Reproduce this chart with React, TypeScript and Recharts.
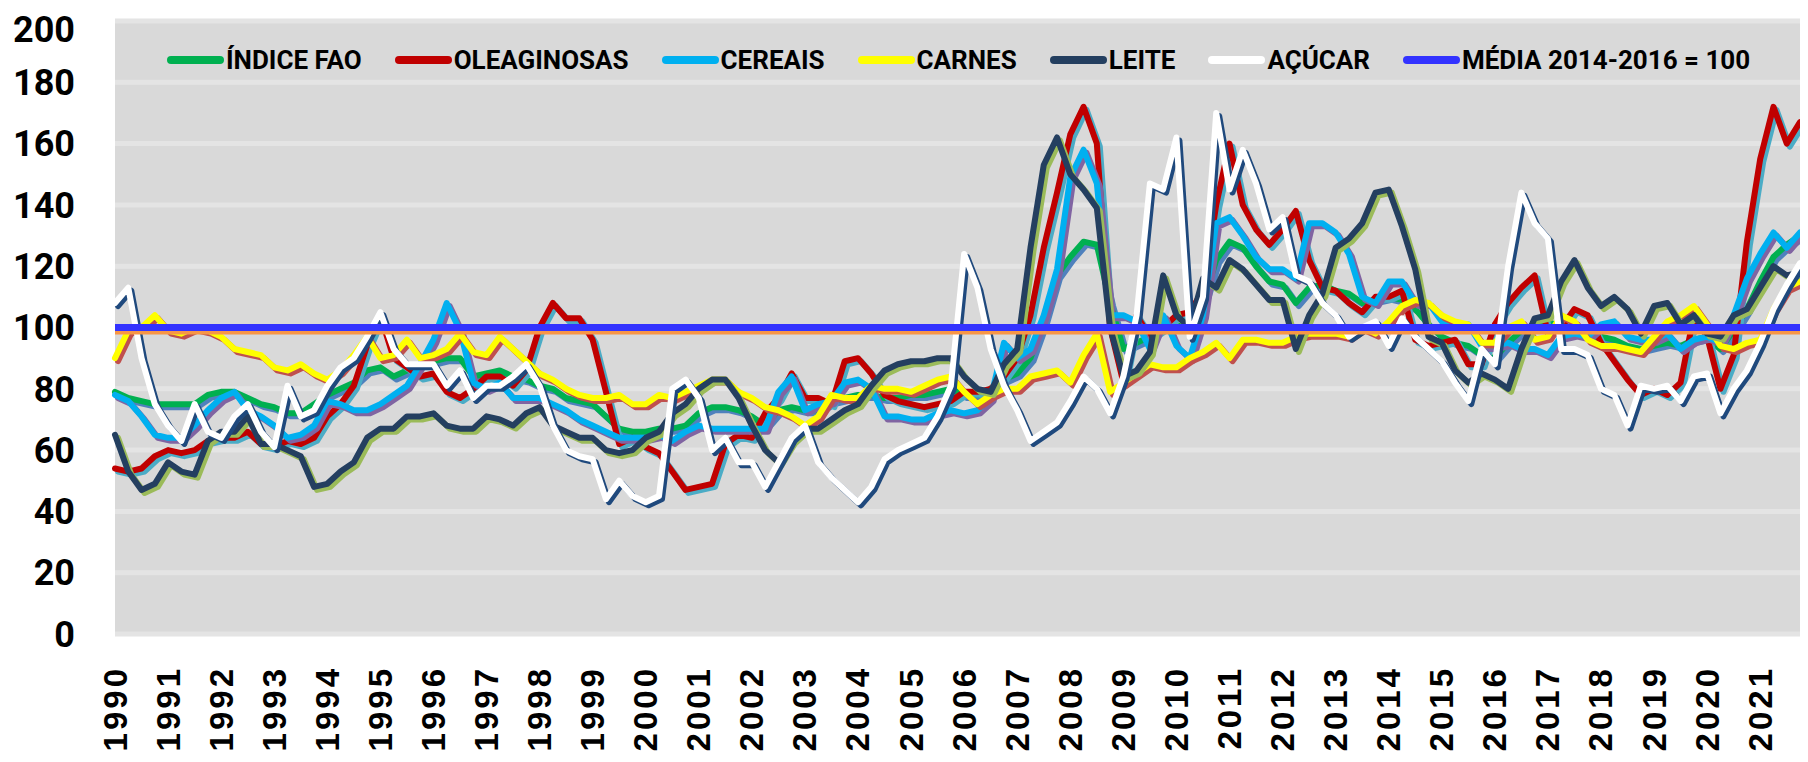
import { LineChart, Line, XAxis, YAxis, CartesianGrid, ReferenceLine } from "recharts";

const YEARS = [
  1990, 1991, 1992, 1993, 1994, 1995, 1996, 1997, 1998, 1999, 2000, 2001, 2002, 2003, 2004, 2005,
  2006, 2007, 2008, 2009, 2010, 2011, 2012, 2013, 2014, 2015, 2016, 2017, 2018, 2019, 2020, 2021,
];
const QUARTERS = ["T1", "T2", "T3", "T4"];

// valores trimestrais (2014-2016 = 100)
const indiceFao = [
  79, 77, 76, 75, 75, 75, 75, 78, 79, 79, 77, 75, 74, 72, 72, 75,
  78, 80, 82, 86, 87, 84, 86, 88, 89, 90, 90, 84, 85, 86, 84, 83,
  81, 80, 77, 76, 75, 71, 67, 66, 66, 67, 67, 68, 72, 74, 74, 73,
  71, 68, 73, 74, 73, 73, 76, 77, 78, 78, 77, 77, 78, 78, 79, 80,
  78, 78, 80, 83, 85, 90, 102, 117, 123, 128, 127, 108, 93, 95, 97, 103,
  100, 102, 108, 122, 128, 126, 120, 115, 114, 108, 113, 114, 112, 111, 108, 109,
  110, 109, 106, 101, 97, 95, 94, 91, 90, 95, 99, 101, 102, 100, 99, 97,
  97, 96, 94, 93, 94, 95, 94, 96, 97, 93, 99, 106, 115, 123, 127, 130,
];
const oleaginosas = [
  54, 53, 54, 58, 60, 59, 60, 63, 64, 64, 66, 62, 61, 63, 62, 64,
  71, 75, 81, 94, 104, 90, 87, 84, 85, 79, 77, 80, 84, 84, 81, 86,
  100, 108, 103, 103, 96, 79, 62, 64, 61, 59, 53, 47, 48, 49, 62, 65,
  64, 72, 77, 85, 77, 77, 75, 89, 90, 85, 78, 76, 75, 74, 75, 76,
  79, 79, 80, 84, 90, 104, 126, 144, 163, 172, 160, 100, 82, 104, 97, 100,
  104, 105, 112, 140, 160, 140, 132, 127, 132, 138, 122, 113, 112, 108, 105, 110,
  110, 112, 96, 94, 95, 96, 88, 88, 101, 108, 113, 117, 98, 100, 106, 104,
  95, 89, 83, 78, 80, 78, 82, 104, 97, 80, 91, 128, 155, 172, 160, 167,
];
const cereais = [
  78, 76, 71, 65, 64, 64, 68, 73, 77, 79, 73, 71, 68, 64, 65, 68,
  76, 75, 73, 73, 75, 78, 81, 88, 96, 108, 99, 82, 80, 82, 77, 77,
  77, 75, 73, 70, 68, 66, 64, 64, 64, 65, 63, 66, 68, 67, 67, 67,
  67, 67, 79, 84, 73, 75, 76, 82, 83, 80, 71, 71, 70, 70, 72, 73,
  72, 73, 77, 95, 90, 93, 104, 119, 149, 158, 147, 104, 104, 102, 93, 104,
  94, 90, 104, 134, 136, 130, 123, 119, 119, 116, 134, 134, 131, 124, 110, 108,
  115, 115, 108, 108, 102, 100, 101, 94, 94, 95, 93, 93, 91, 97, 98, 97,
  101, 102, 97, 96, 96, 98, 93, 96, 97, 95, 104, 116, 124, 131, 126, 131,
];
const carnes = [
  90, 99, 100, 104, 99, 98, 100, 99, 97, 93, 92, 91, 87, 86, 88, 85,
  83, 86, 91, 97, 90, 91, 96, 90, 91, 93, 98, 92, 91, 97, 93, 89,
  85, 83, 80, 78, 77, 77, 78, 75, 75, 78, 77, 79, 81, 83, 83, 79,
  77, 74, 73, 71, 68, 71, 78, 77, 77, 81, 80, 80, 79, 81, 83, 84,
  79, 75, 78, 80, 80, 84, 85, 86, 82, 91, 98, 79, 82, 85, 88, 87,
  87, 90, 92, 95, 90, 96, 96, 95, 95, 97, 98, 98, 98, 97, 100, 98,
  102, 107, 109, 108, 104, 102, 101, 95, 95, 100, 102, 96, 97, 104, 102, 96,
  94, 94, 93, 92, 97, 102, 104, 107, 101, 94, 93, 95, 96, 106, 113, 115,
];
const leite = [
  65, 53, 47, 49, 56, 53, 52, 63, 66, 66, 71, 62, 62, 60, 58, 48,
  49, 53, 56, 64, 67, 67, 71, 71, 72, 68, 67, 67, 71, 70, 68, 72,
  74, 68, 66, 64, 64, 60, 59, 60, 64, 66, 72, 75, 80, 83, 83, 77,
  68, 60, 56, 63, 67, 67, 70, 73, 75, 81, 86, 88, 89, 89, 90, 90,
  84, 80, 79, 88, 93, 126, 153, 162, 150, 145, 139, 100, 84, 86, 92, 117,
  104, 100, 116, 113, 122, 119, 114, 109, 109, 93, 104, 111, 126, 129, 134, 144,
  145, 133, 119, 97, 95, 86, 82, 85, 83, 80, 93, 103, 104, 115, 122, 113,
  107, 110, 106, 98, 107, 108, 101, 104, 98, 97, 104, 106, 113, 120, 117, 118,
];
const acucar = [
  108, 113, 90, 75, 68, 63, 75, 66, 64, 71, 75, 66, 61, 81, 71, 73,
  81, 87, 90, 97, 105, 93, 88, 88, 88, 81, 86, 77, 81, 81, 84, 88,
  81, 68, 60, 58, 57, 44, 50, 45, 43, 45, 80, 83, 77, 60, 64, 56,
  56, 48, 56, 64, 68, 56, 51, 47, 43, 48, 57, 60, 62, 64, 71, 81,
  124, 113, 93, 81, 73, 63, 66, 69, 76, 84, 80, 72, 84, 104, 147, 145,
  162, 97, 110, 170, 145, 158, 147, 132, 136, 117, 115, 108, 104, 97, 100, 102,
  94, 103, 97, 93, 89, 82, 76, 93, 88, 120, 144, 134, 129, 93, 93, 91,
  80, 78, 68, 81, 80, 81, 76, 84, 85, 72, 80, 86, 95, 106, 114, 121,
];
const MEDIA_BASE = 100;
const Y_TICKS = [0, 20, 40, 60, 80, 100, 120, 140, 160, 180, 200];

const SERIES = [
  { key: "fao", name: "ÍNDICE FAO", color: "#00B050", shade: "#4F81BD", values: indiceFao },
  { key: "oleo", name: "OLEAGINOSAS", color: "#C00000", shade: "#4BACC6", values: oleaginosas },
  { key: "cereais", name: "CEREAIS", color: "#00B0F0", shade: "#8064A2", values: cereais },
  { key: "carnes", name: "CARNES", color: "#FFFF00", shade: "#C0504D", values: carnes },
  { key: "leite", name: "LEITE", color: "#243F60", shade: "#9BBB59", values: leite },
  { key: "acucar", name: "AÇÚCAR", color: "#FFFFFF", shade: "#1F497D", values: acucar },
];

const data = YEARS.flatMap((year, yi) =>
  QUARTERS.map((q, qi) => {
    const row: Record<string, string | number> = { period: `${year}-${q}` };
    SERIES.forEach((s) => {
      row[s.key] = s.values[yi * 4 + qi];
    });
    return row;
  })
);
const yearTicks = YEARS.map((y) => `${y}-T1`);

const LEGEND = [
  ...SERIES.map((s) => ({ name: s.name, color: s.color })),
  { name: "MÉDIA 2014-2016 = 100", color: "#3333FF" },
];

function YearTick(props: any) {
  const { x, y, payload } = props;
  const ty = y + 24;
  return (
    <text
      x={x}
      y={ty}
      transform={`rotate(-90 ${x} ${ty})`}
      textAnchor="end"
      dominantBaseline="central"
      fontFamily="'Liberation Sans', Arial, sans-serif"
      fontWeight={700}
      fontSize={33}
      letterSpacing={3}
      fill="#000"
    >
      {String(payload.value).slice(0, 4)}
    </text>
  );
}

export default function App() {
  return (
    <div style={{ position: "relative", width: 1800, height: 754 }}>
      <style>{`.shade { transform: translate(3px, 3px); } .shade-ref { transform: translate(0px, 4px); }`}</style>
      <LineChart width={1800} height={754} data={data} margin={{ top: 13, right: 8, bottom: 0, left: 0 }}>
        <CartesianGrid vertical={false} stroke="#e4e4e4" strokeWidth={5} fill="#d9d9d9" />
        <XAxis
          dataKey="period"
          ticks={yearTicks}
          interval={0}
          tickLine={false}
          axisLine={false}
          height={128}
          tick={<YearTick />}
        />
        <YAxis
          domain={[0, 200]}
          ticks={Y_TICKS}
          width={107}
          tickLine={false}
          axisLine={false}
          tickMargin={34}
          tick={{ fontSize: 36, fontWeight: 700, fill: "#000", fontFamily: "Roboto, sans-serif" }}
        />
        {SERIES.flatMap((s) => [
          <Line
            key={`${s.key}-shade`}
            className="shade"
            type="linear"
            dataKey={s.key}
            stroke={s.shade}
            strokeWidth={6}
            strokeLinejoin="round"
            strokeLinecap="round"
            dot={false}
            activeDot={false}
            legendType="none"
            isAnimationActive={false}
          />,
          <Line
            key={s.key}
            type="linear"
            dataKey={s.key}
            name={s.name}
            stroke={s.color}
            strokeWidth={6}
            strokeLinejoin="round"
            strokeLinecap="round"
            dot={false}
            activeDot={false}
            isAnimationActive={false}
          />,
        ])}
        <ReferenceLine y={MEDIA_BASE} className="shade-ref" stroke="#F79646" strokeWidth={6} />
        <ReferenceLine y={MEDIA_BASE} stroke="#3333FF" strokeWidth={7} />
      </LineChart>
      <div
        style={{
          position: "absolute",
          top: 39,
          left: 159,
          display: "flex",
          alignItems: "center",
          gap: 33,
          fontFamily: "Roboto, sans-serif",
          fontWeight: 700,
          fontSize: 26,
          lineHeight: "26px",
          color: "#000",
          whiteSpace: "nowrap",
        }}
      >
        {LEGEND.map((item) => (
          <div key={item.name} style={{ display: "flex", alignItems: "center", gap: 2 }}>
            <div style={{ width: 57, height: 8, borderRadius: 4, background: item.color }} />
            <span>{item.name}</span>
          </div>
        ))}
      </div>
    </div>
  );
}
